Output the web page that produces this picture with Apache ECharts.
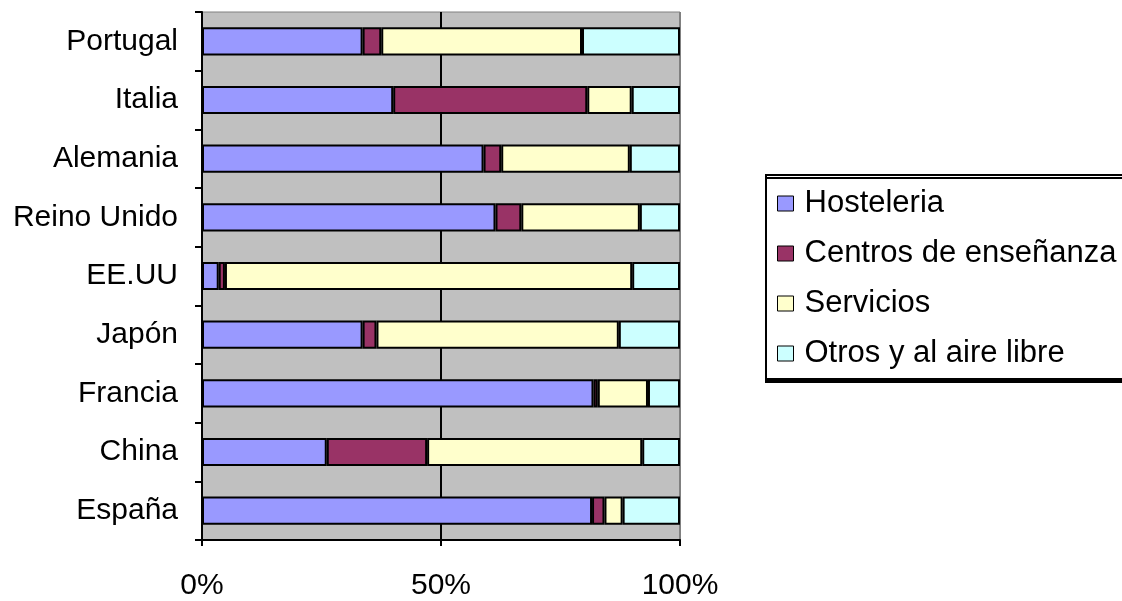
<!DOCTYPE html>
<html>
<head>
<meta charset="utf-8">
<script src="https://cdn.jsdelivr.net/npm/echarts@6/dist/echarts.min.js"></script>
<style>
  html, body { margin: 0; padding: 0; background: #fff; overflow: hidden; }
  #chart { width: 1122px; height: 601px; }
</style>
</head>
<body>
<div id="chart"></div>
<script>
// Countries, listed bottom to top
const countries = ['España', 'China', 'Francia', 'Japón', 'EE.UU', 'Reino Unido', 'Alemania', 'Italia', 'Portugal'];

// Share of each sector (%), same order as countries
const hosteleria = [81.6, 26.1, 81.9, 33.6, 3.5, 61.4, 58.9, 40.0, 33.6];
const centros    = [2.6, 21.0, 0.9, 2.9, 1.3, 5.4, 3.7, 40.6, 3.9];
const servicios  = [3.8, 45.0, 10.5, 50.7, 85.2, 24.8, 26.9, 9.3, 42.0];
const otros      = [12.0, 7.9, 6.7, 12.8, 10.0, 8.4, 10.5, 10.1, 20.5];

const seriesNames = ['Hosteleria', 'Centros de enseñanza', 'Servicios', 'Otros y al aire libre'];
const seriesData = [hosteleria, centros, servicios, otros];
const seriesColors = ['#9999FF', '#993366', '#FFFFCC', '#CCFFFF'];

const FONT = 'Liberation Sans, Arial, sans-serif';

const chart = echarts.init(document.getElementById('chart'), null, { renderer: 'canvas' });

chart.setOption({
  animation: false,
  backgroundColor: '#ffffff',
  grid: {
    left: 202, right: 442, top: 12, bottom: 57,
    show: true,
    backgroundColor: '#C0C0C0',
    borderColor: '#808080',
    borderWidth: 1
  },
  legend: {
    orient: 'vertical',
    left: 766, top: 175,
    padding: [13, 30, 10, 11],
    backgroundColor: '#ffffff',
    borderColor: '#000000',
    borderWidth: 2,
    borderRadius: 0,
    shadowColor: '#000000',
    shadowBlur: 0,
    shadowOffsetX: 0,
    shadowOffsetY: 3,
    itemWidth: 16,
    itemHeight: 15,
    itemGap: 19,
    icon: 'rect',
    itemStyle: { borderColor: '#000000', borderWidth: 1 },
    textStyle: {
      fontFamily: FONT, fontSize: 31, color: '#000000',
      lineHeight: 30, padding: [0, 0, 0, 6]
    },
    data: seriesNames
  },
  xAxis: {
    type: 'value',
    min: 0, max: 100, interval: 50,
    axisLine: { show: true, lineStyle: { color: '#000000', width: 2 } },
    axisTick: { show: true, length: 6, lineStyle: { color: '#000000', width: 2 } },
    axisLabel: {
      formatter: '{value}%',
      fontFamily: FONT, fontSize: 30, color: '#000000', margin: 31
    },
    splitLine: { show: true, lineStyle: { color: ['#000000', '#000000', '#808080'], width: 2 } }
  },
  yAxis: {
    type: 'category',
    data: countries,
    boundaryGap: true,
    axisLine: { show: true, lineStyle: { color: '#000000', width: 2 } },
    axisTick: { show: true, length: 7, lineStyle: { color: '#000000', width: 2 } },
    axisLabel: { fontFamily: FONT, fontSize: 30, color: '#000000', margin: 24 },
    splitLine: { show: false }
  },
  series: seriesNames.map((name, i) => ({
    name: name,
    type: 'bar',
    stack: 'total',
    barWidth: '48%',
    data: seriesData[i],
    itemStyle: { color: seriesColors[i], borderColor: '#000000', borderWidth: 2 }
  }))
});
</script>
</body>
</html>
